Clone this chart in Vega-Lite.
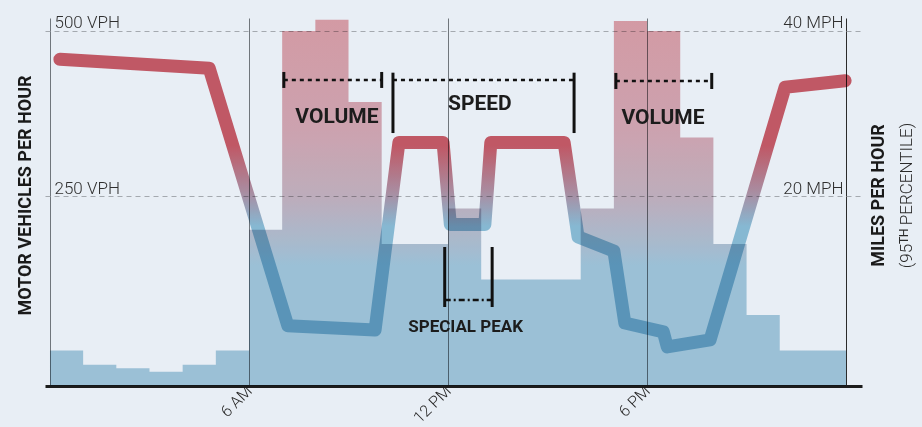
{
  "$schema": "https://vega.github.io/schema/vega-lite/v6.json",
  "width": 817,
  "height": 368,
  "autosize": {"type": "none"},
  "padding": {"left": 45, "top": 18, "right": 60, "bottom": 41},
  "background": "#e8eef5",
  "config": {
    "view": {"stroke": null},
    "font": "Roboto, sans-serif"
  },
  "datasets": {
    "volume": [
      {"start": 0, "end": 1, "vph": 50},
      {"start": 1, "end": 2, "vph": 30},
      {"start": 2, "end": 3, "vph": 25},
      {"start": 3, "end": 4, "vph": 20},
      {"start": 4, "end": 5, "vph": 30},
      {"start": 5, "end": 6, "vph": 50},
      {"start": 6, "end": 7, "vph": 220},
      {"start": 7, "end": 8, "vph": 500},
      {"start": 8, "end": 9, "vph": 516},
      {"start": 9, "end": 10, "vph": 400},
      {"start": 10, "end": 11, "vph": 200},
      {"start": 11, "end": 12, "vph": 200},
      {"start": 12, "end": 13, "vph": 250},
      {"start": 13, "end": 14, "vph": 150},
      {"start": 14, "end": 15, "vph": 150},
      {"start": 15, "end": 16, "vph": 150},
      {"start": 16, "end": 17, "vph": 250},
      {"start": 17, "end": 18, "vph": 514},
      {"start": 18, "end": 19, "vph": 500},
      {"start": 19, "end": 20, "vph": 350},
      {"start": 20, "end": 21, "vph": 200},
      {"start": 21, "end": 22, "vph": 100},
      {"start": 22, "end": 23, "vph": 50},
      {"start": 23, "end": 24, "vph": 50}
    ],
    "speed": [
      {"h": 0.3, "mph": 36.8},
      {"h": 4.8, "mph": 35.8},
      {"h": 7.17, "mph": 6.8},
      {"h": 9.8, "mph": 6.3},
      {"h": 10.52, "mph": 27.44},
      {"h": 11.85, "mph": 27.44},
      {"h": 12.07, "mph": 18.2},
      {"h": 13.11, "mph": 18.2},
      {"h": 13.29, "mph": 27.44},
      {"h": 15.5, "mph": 27.44},
      {"h": 15.92, "mph": 16.8},
      {"h": 17.0, "mph": 15.2},
      {"h": 17.33, "mph": 7.1},
      {"h": 18.49, "mph": 6.1},
      {"h": 18.61, "mph": 4.4},
      {"h": 19.9, "mph": 5.2},
      {"h": 22.16, "mph": 33.65},
      {"h": 23.97, "mph": 34.4}
    ],
    "spans": [
      {"h1": 7.05, "h2": 10.0, "lvl": 34.48},
      {"h1": 10.34, "h2": 15.8, "lvl": 34.48},
      {"h1": 17.06, "h2": 19.95, "lvl": 34.35}
    ],
    "peakspan": [
      {"h1": 11.9, "h2": 13.33, "lvl": 9.69}
    ],
    "ticks": [
      {"h": 7.05, "lo": 33.58, "hi": 35.38},
      {"h": 10.0, "lo": 33.58, "hi": 35.38},
      {"h": 10.34, "lo": 28.5, "hi": 35.3},
      {"h": 15.8, "lo": 28.5, "hi": 35.3},
      {"h": 17.06, "lo": 33.46, "hi": 35.27},
      {"h": 19.95, "lo": 33.46, "hi": 35.27},
      {"h": 11.9, "lo": 8.9, "hi": 15.66},
      {"h": 13.33, "lo": 8.9, "hi": 15.66}
    ],
    "labels": [
      {"h": 8.65, "lvl": 30.3, "label": "VOLUME"},
      {"h": 12.96, "lvl": 31.8, "label": "SPEED"},
      {"h": 18.48, "lvl": 30.2, "label": "VOLUME"}
    ],
    "smalllabels": [
      {"h": 12.53, "lvl": 6.7, "label": "SPECIAL PEAK"}
    ]
  },
  "layer": [
    {
      "data": {"name": "volume"},
      "transform": [{"fold": ["start", "end"], "as": ["edge", "hour"]}],
      "mark": {
        "type": "area",
        "interpolate": "linear",
        "blend": "multiply",
        "fill": {
          "gradient": "linear",
          "x1": 0, "y1": 0, "x2": 0, "y2": 1,
          "stops": [
            {"offset": 0, "color": "#e8a5ab"},
            {"offset": 0.3, "color": "#e1aeb6"},
            {"offset": 0.49, "color": "#cfbac4"},
            {"offset": 0.6, "color": "#bbc6d4"},
            {"offset": 0.67, "color": "#abcedf"},
            {"offset": 1, "color": "#abcedf"}
          ]
        }
      },
      "encoding": {
        "x": {
          "field": "hour",
          "type": "quantitative",
          "scale": {"domain": [-0.15, 24.48], "nice": false, "zero": false},
          "axis": {
            "values": [0, 6, 12, 18, 24],
            "title": null,
            "grid": true,
            "gridColor": {"condition": {"test": "datum.value === 24", "value": "#2b2b2b"}, "value": "#70767c"},
            "gridWidth": 1,
            "domain": true,
            "domainColor": "#1c1c1c",
            "domainWidth": 3,
            "ticks": false,
            "tickSize": 0,
            "labelAngle": -45,
            "labelAlign": "right",
            "labelBaseline": "middle",
            "labelPadding": 2,
            "labelFontSize": 16,
            "labelFontWeight": 300,
            "labelColor": "#2a2a2a",
            "labelExpr": "datum.value === 6 ? '6 AM' : datum.value === 12 ? '12 PM' : datum.value === 18 ? '6 PM' : ''"
          }
        },
        "y": {
          "field": "vph",
          "type": "quantitative",
          "stack": null,
          "scale": {"domain": [0, 518.3], "nice": false, "zero": true},
          "axis": {
            "orient": "left",
            "values": [267.6, 500],
            "labelExpr": "datum.value > 400 ? '500 VPH' : '250 VPH'",
            "domain": false,
            "ticks": false,
            "tickSize": 0,
            "labelAlign": "left",
            "labelBaseline": "alphabetic",
            "labelPadding": -9,
            "labelOffset": -3,
            "labelFontSize": 17,
            "labelFontWeight": 300,
            "labelColor": "#2f2f2f",
            "grid": true,
            "gridDash": [5, 4],
            "gridColor": "#a4a9af",
            "gridWidth": 1,
            "title": "MOTOR VEHICLES PER HOUR",
            "titleFontSize": 18,
            "titleFontWeight": "bold",
            "titleColor": "#1a1a1a",
            "titleAngle": -90,
            "titleAlign": "center",
            "titleBaseline": "middle",
            "titleX": -20,
            "titleY": 177
          }
        },
        "order": [{"field": "hour", "type": "quantitative"}, {"field": "edge", "type": "nominal"}]
      }
    },
    {
      "data": {"name": "speed"},
      "mark": {
        "type": "line",
        "strokeWidth": 13,
        "strokeCap": "round",
        "strokeJoin": "round",
        "blend": "multiply",
        "stroke": {
          "gradient": "linear",
          "x1": 0, "y1": 0, "x2": 0, "y2": 1,
          "stops": [
            {"offset": 0, "color": "#d35e69"},
            {"offset": 0.3, "color": "#d35e69"},
            {"offset": 0.47, "color": "#b89aab"},
            {"offset": 0.58, "color": "#93c5db"},
            {"offset": 1, "color": "#93c5db"}
          ]
        }
      },
      "encoding": {
        "x": {
          "field": "h",
          "type": "quantitative",
          "scale": {"domain": [-0.15, 24.48], "nice": false, "zero": false}
        },
        "y": {
          "field": "mph",
          "type": "quantitative",
          "scale": {"domain": [0, 41.46], "nice": false, "zero": true},
          "axis": {
            "orient": "right",
            "values": [21.4, 40],
            "labelExpr": "datum.value > 30 ? '40 MPH' : '20 MPH'",
            "domain": false,
            "ticks": false,
            "tickSize": 0,
            "grid": false,
            "labelAlign": "right",
            "labelBaseline": "alphabetic",
            "labelPadding": -19,
            "labelOffset": -3,
            "labelFontSize": 17,
            "labelFontWeight": 300,
            "labelColor": "#2f2f2f",
            "title": "MILES PER HOUR",
            "titleFontSize": 18,
            "titleFontWeight": "bold",
            "titleColor": "#1a1a1a",
            "titleAngle": -90,
            "titleAlign": "center",
            "titleBaseline": "middle",
            "titleX": 16,
            "titleY": 177
          }
        }
      }
    },
    {
      "layer": [
        {
          "data": {"name": "spans"},
          "mark": {"type": "rule", "strokeDash": [4, 4], "strokeWidth": 2.5, "color": "#111111"},
          "encoding": {
            "x": {"field": "h1", "type": "quantitative", "scale": {"domain": [-0.15, 24.48], "nice": false, "zero": false}},
            "x2": {"field": "h2"},
            "y": {
              "field": "lvl",
              "type": "quantitative",
              "scale": {"domain": [0, 41.46], "nice": false, "zero": true},
              "axis": {
                "orient": "right",
                "labels": false,
                "ticks": false,
                "domain": false,
                "grid": false,
                "title": "(95ᵀᴴ PERCENTILE)",
                "titleFontSize": 17,
                "titleFontWeight": 300,
                "titleColor": "#2a2a2a",
                "titleAngle": -90,
                "titleAlign": "center",
                "titleBaseline": "middle",
                "titleX": 44,
                "titleY": 177
              }
            }
          }
        },
        {
          "data": {"name": "peakspan"},
          "mark": {"type": "rule", "strokeDash": [6, 3, 2, 3], "strokeWidth": 2.5, "color": "#111111"},
          "encoding": {
            "x": {"field": "h1", "type": "quantitative", "scale": {"domain": [-0.15, 24.48], "nice": false, "zero": false}},
            "x2": {"field": "h2"},
            "y": {"field": "lvl", "type": "quantitative", "scale": {"domain": [0, 41.46], "nice": false, "zero": true}}
          }
        },
        {
          "data": {"name": "ticks"},
          "mark": {"type": "rule", "strokeWidth": 3, "color": "#111111"},
          "encoding": {
            "x": {"field": "h", "type": "quantitative", "scale": {"domain": [-0.15, 24.48], "nice": false, "zero": false}},
            "y": {"field": "lo", "type": "quantitative", "scale": {"domain": [0, 41.46], "nice": false, "zero": true}},
            "y2": {"field": "hi"}
          }
        },
        {
          "data": {"name": "labels"},
          "mark": {"type": "text", "fontSize": 21, "fontWeight": "bold", "color": "#1c1c1c", "align": "center", "baseline": "middle"},
          "encoding": {
            "x": {"field": "h", "type": "quantitative", "scale": {"domain": [-0.15, 24.48], "nice": false, "zero": false}},
            "y": {"field": "lvl", "type": "quantitative", "scale": {"domain": [0, 41.46], "nice": false, "zero": true}},
            "text": {"field": "label"}
          }
        },
        {
          "data": {"name": "smalllabels"},
          "mark": {"type": "text", "fontSize": 17, "fontWeight": "bold", "color": "#1c1c1c", "align": "center", "baseline": "middle"},
          "encoding": {
            "x": {"field": "h", "type": "quantitative", "scale": {"domain": [-0.15, 24.48], "nice": false, "zero": false}},
            "y": {"field": "lvl", "type": "quantitative", "scale": {"domain": [0, 41.46], "nice": false, "zero": true}},
            "text": {"field": "label"}
          }
        }
      ]
    }
  ],
  "resolve": {"scale": {"y": "independent"}, "axis": {"y": "independent"}}
}
